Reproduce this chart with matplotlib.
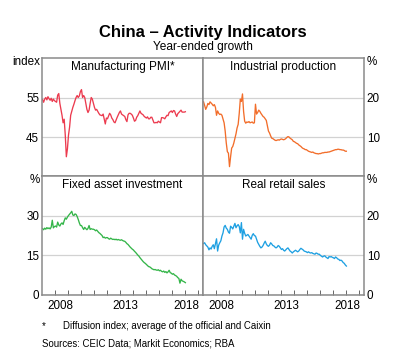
import numpy as np
import matplotlib
matplotlib.use("Agg")
import matplotlib.pyplot as plt

plt.rcParams['font.family'] = ['Liberation Sans', 'DejaVu Sans']

# monthly data, Jan 2007 to Jan 2018
pmi = [54.5, 53.8, 54.6, 55.0, 54.4, 55.2, 54.7, 54.3, 54.8, 54.0, 54.6, 54.2,
       54.0, 53.8, 55.6, 56.0, 53.5, 52.0, 50.5, 48.6, 49.5, 45.5, 40.0, 42.0,
       45.5, 47.5, 50.5, 51.5, 52.5, 53.3, 54.2, 55.0, 55.5, 55.0, 55.4, 56.5,
       57.0, 55.0, 55.5, 55.0, 53.5, 52.0, 51.2, 51.8, 53.5, 55.0, 54.6, 53.5,
       52.5, 51.8, 52.0, 51.5, 51.0, 50.6, 50.5, 50.4, 50.8, 49.6, 48.3, 49.8,
       49.6, 50.3, 51.0, 50.6, 49.8, 49.4, 48.8, 48.6, 49.3, 50.0, 50.6, 51.2,
       51.6, 50.8, 50.6, 50.4, 50.2, 49.4, 48.9, 50.6, 51.0, 51.0, 50.8, 50.5,
       49.8, 49.0, 49.2, 50.0, 50.4, 51.0, 51.6, 51.0, 50.8, 50.6, 50.2, 50.0,
       49.8, 50.1, 49.6, 49.6, 50.0, 50.0, 49.3, 48.6, 48.6, 48.7, 48.6, 49.0,
       48.8, 48.6, 49.9, 49.9, 49.8, 49.6, 50.1, 50.5, 50.4, 51.2, 51.4, 51.6,
       51.2, 51.7, 51.6, 50.8, 50.2, 50.9, 51.2, 51.5, 51.8, 51.3, 51.3, 51.3,
       51.4]

ip = [18.9, 18.0, 17.0, 17.6, 18.5, 18.2, 18.9, 18.6, 18.3, 17.9, 18.2, 17.5,
      15.5, 16.6, 16.0, 15.7, 15.8, 15.5, 14.5, 13.6, 11.5, 8.5, 6.3, 5.9,
      2.5, 5.0, 7.2, 7.6, 8.5, 9.7, 10.8, 12.3, 13.2, 16.0, 19.6, 19.0,
      20.9, 16.5, 14.0, 13.5, 13.8, 13.7, 13.9, 13.6, 13.7, 13.8, 13.5, 13.6,
      18.3, 15.8, 16.2, 16.8, 16.5, 16.0, 15.6, 15.2, 15.0, 14.6, 14.2, 12.8,
      11.5, 11.0, 10.3, 9.7, 9.6, 9.4, 9.2, 9.1, 9.2, 9.3, 9.2, 9.4,
      9.5, 9.4, 9.3, 9.4, 9.6, 9.9, 10.1, 10.0, 9.7, 9.5, 9.3, 8.9,
      8.8, 8.6, 8.4, 8.3, 8.0, 7.8, 7.6, 7.3, 7.1, 7.0, 6.8, 6.8,
      6.6, 6.4, 6.3, 6.2, 6.1, 6.2, 6.0, 5.9, 5.8, 5.8, 5.7, 5.8,
      5.8, 5.9, 6.0, 6.0, 6.1, 6.1, 6.1, 6.2, 6.2, 6.3, 6.4, 6.5,
      6.6, 6.7, 6.8, 6.8, 6.9, 6.9, 6.8, 6.8, 6.7, 6.7, 6.6, 6.4,
      6.4]

fai = [25.0, 24.6, 25.2, 24.8, 25.4, 25.0, 25.3, 24.9, 25.6, 28.2, 25.3, 25.8,
       26.0, 25.6, 27.5, 26.4, 26.0, 26.8, 27.2, 26.6, 28.0, 29.1, 28.6, 29.4,
       30.0, 30.5, 31.0, 31.6, 30.2, 30.0, 30.6, 30.4, 29.6, 28.5, 27.2, 26.2,
       26.2, 25.4, 24.7, 25.5, 25.0, 24.6, 25.1, 26.2, 24.7, 25.0, 24.8, 24.8,
       24.6, 24.2, 24.5, 24.0, 23.5, 23.2, 22.8, 22.4, 21.6, 21.8, 21.4, 21.6,
       21.6, 21.2, 21.0, 21.4, 21.1, 20.9, 21.0, 20.8, 21.0, 20.7, 20.9, 20.7,
       20.6, 20.8, 20.5, 20.3, 20.2, 19.8, 19.3, 19.0, 18.5, 18.0, 17.6, 17.2,
       16.9, 16.4, 16.0, 15.5, 15.0, 14.6, 14.0, 13.5, 13.0, 12.5, 12.1, 11.8,
       11.4, 11.0, 10.6, 10.5, 10.2, 9.8, 9.6, 9.4, 9.5, 9.3, 9.2, 9.4,
       9.0, 9.2, 8.8, 8.6, 8.9, 8.4, 8.7, 8.2, 8.6, 9.2, 8.3, 8.1,
       7.7, 7.9, 7.4, 7.2, 6.9, 6.4, 6.1, 4.3, 5.8, 5.2, 5.0, 4.8,
       4.5]

retail = [12.9, 13.1, 12.6, 12.3, 12.0, 11.3, 11.8, 11.5, 12.2, 12.6, 11.6, 12.8,
          14.1, 11.0, 12.5, 13.1, 13.6, 14.8, 15.6, 17.1, 17.5, 16.8, 16.5, 15.8,
          15.5, 17.3, 17.0, 16.6, 17.3, 18.0, 16.9, 17.4, 17.7, 17.2, 15.6, 18.2,
          14.0, 16.5, 15.5, 14.8, 15.0, 15.2, 14.8, 14.4, 14.0, 15.0, 15.4, 14.9,
          14.8, 14.0, 13.2, 12.7, 12.2, 11.8, 12.0, 12.4, 13.0, 13.5, 12.8, 12.4,
          12.2, 12.5, 13.1, 12.8, 12.4, 12.3, 12.0, 11.8, 12.0, 12.4, 12.2, 11.8,
          11.4, 11.6, 11.2, 11.0, 11.3, 11.6, 11.8, 11.4, 11.0, 10.8, 10.5, 10.8,
          11.0, 11.2, 11.0, 10.8, 11.0, 11.4, 11.7, 11.5, 11.3, 11.0, 10.9, 10.8,
          10.6, 10.8, 10.6, 10.5, 10.6, 10.4, 10.3, 10.2, 10.5, 10.4, 10.2, 10.2,
          9.9, 9.7, 9.5, 9.7, 9.8, 9.5, 9.3, 9.1, 9.6, 9.5, 9.6, 9.4,
          9.3, 9.1, 9.5, 9.3, 9.0, 8.9, 8.6, 8.7, 8.5, 8.1, 7.9, 7.5,
          7.2]

dates = 2007 + (np.arange(len(pmi)) + 0.5) / 12

year_ticks = list(range(2008, 2020))
year_labels = ['2008', '2013', '2018']
year_label_pos = [2008.45, 2013.4, 2018.15]

panels = [
    # title, data, colour, ylim, yticks, unit, side
    ('Manufacturing PMI*', pmi, '#ec3b4f', (35, 65), [45, 55], 'index', 'left'),
    ('Industrial production', ip, '#f26d2a', (0, 30), [10, 20], '%', 'right'),
    ('Fixed asset investment', fai, '#34b549', (0, 45), [0, 15, 30], '%', 'left'),
    ('Real retail sales', retail, '#1ea0e2', (0, 30), [0, 10, 20], '%', 'right'),
]

W, H = 406, 362
fig = plt.figure(figsize=(W / 100, H / 100), dpi=100)

boxes = [(42, 58), (203, 58), (42, 176), (203, 176)]
frame_col = '#8a8a8a'
fs = 8.4

for k, (title, data, col, ylim, yticks, unit, side) in enumerate(panels):
    x0, y0 = boxes[k]
    ax = fig.add_axes([x0 / W, 1 - (y0 + 118.5) / H, 161 / W, 118.5 / H])
    ax.plot(dates, data, color=col, lw=0.95)
    ax.set_xlim(2007.0, 2019.4)
    ax.set_ylim(*ylim)
    ax.set_yticks(yticks)
    ax.grid(axis='y', color='#d2d2d2', lw=0.9)
    ax.set_axisbelow(True)
    for s in ax.spines.values():
        s.set_color(frame_col)
        s.set_linewidth(1.1)
    if side == 'right':
        ax.yaxis.tick_right()
    ax.tick_params(axis='y', length=0, labelsize=fs, pad=2)
    if k >= 2:
        ax.set_xticks(year_ticks)
        ax.set_xticklabels([])
        ax.set_xticks(year_label_pos, minor=True)
        ax.set_xticklabels(year_labels, minor=True)
        ax.tick_params(axis='x', which='major', direction='in', length=3.5,
                       width=0.7, color='#666666')
        ax.tick_params(axis='x', which='minor', length=0, labelsize=fs, pad=4)
    else:
        ax.set_xticks([])
    ax.text(0.5, 0.925, title, transform=ax.transAxes, ha='center', va='center',
            fontsize=8.5)
    if side == 'left':
        ax.text(-0.012, 0.965, unit, transform=ax.transAxes, ha='right',
                va='center', fontsize=fs)
    else:
        ax.text(1.015, 0.965, unit, transform=ax.transAxes, ha='left',
                va='center', fontsize=fs)

fig.text(0.5, 1 - 32 / H, 'China \u2013 Activity Indicators', ha='center',
         va='center', fontsize=12, fontweight='bold')
fig.text(0.5, 1 - 47 / H, 'Year-ended growth', ha='center', va='center',
         fontsize=8.6)
fig.text(42 / W, 1 - 326 / H, '*', ha='left', va='center', fontsize=6.9)
fig.text(63 / W, 1 - 326 / H, 'Diffusion index; average of the official and Caixin',
         ha='left', va='center', fontsize=6.9)
fig.text(42 / W, 1 - 343 / H, 'Sources: CEIC Data; Markit Economics; RBA',
         ha='left', va='center', fontsize=6.9)

fig.savefig('out.png', dpi=100)
